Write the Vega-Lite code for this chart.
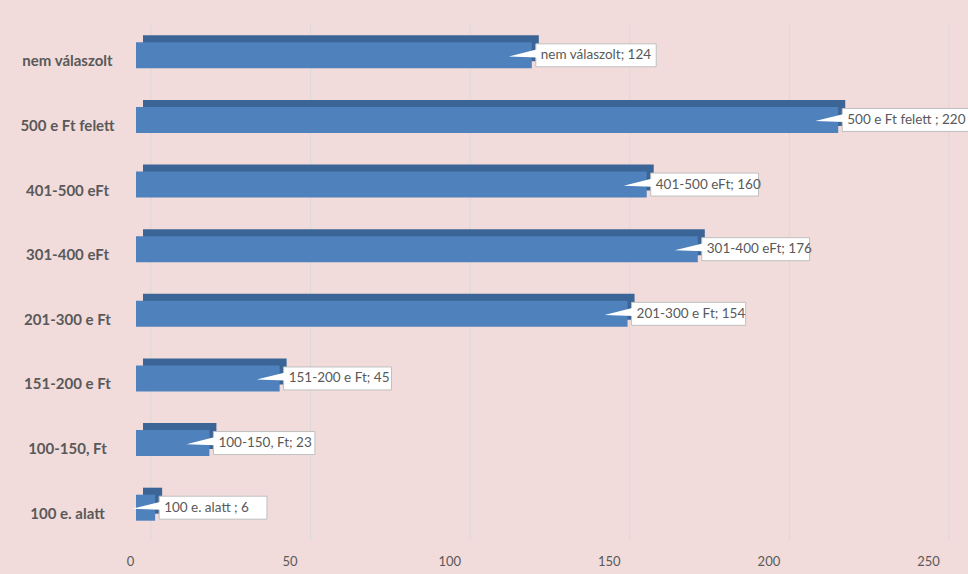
{
  "$schema": "https://vega.github.io/schema/vega-lite/v6.json",
  "width": 798,
  "height": 517,
  "autosize": {"type": "none"},
  "padding": {"left": 136, "top": 23, "right": 34, "bottom": 34},
  "background": "#f2dcdb",
  "config": {"view": {"stroke": null}, "font": "Lato"},
  "datasets": {
    "bars": [
      {"cat": "nem válaszolt", "value": 124, "label": "nem válaszolt; 124"},
      {"cat": "500 e Ft felett", "value": 220, "label": "500 e Ft felett ; 220"},
      {"cat": "401-500 eFt", "value": 160, "label": "401-500 eFt; 160"},
      {"cat": "301-400 eFt", "value": 176, "label": "301-400 eFt; 176"},
      {"cat": "201-300 e Ft", "value": 154, "label": "201-300 e Ft; 154"},
      {"cat": "151-200 e Ft", "value": 45, "label": "151-200 e Ft; 45"},
      {"cat": "100-150, Ft", "value": 23, "label": "100-150, Ft; 23"},
      {"cat": "100 e. alatt", "value": 6, "label": "100 e. alatt ; 6"}
    ],
    "grid": [{"v": 0}, {"v": 50}, {"v": 100}, {"v": 150}, {"v": 200}, {"v": 250}]
  },
  "layer": [
    {
      "data": {"name": "grid"},
      "mark": {"type": "rule", "color": "#d9d9d9", "strokeWidth": 1, "xOffset": 15},
      "encoding": {
        "x": {"field": "v", "type": "quantitative", "scale": {"domain": [0, 250], "nice": false}, "axis": {
          "title": null, "domain": false, "ticks": false, "grid": false, "values": [0, 50, 100, 150, 200, 250],
          "labelFont": "Lato", "labelFontSize": 13, "labelColor": "#595959", "labelPadding": 15, "labelOffset": -6,
          "labelFlush": false
        }}
      }
    },
    {
      "data": {"name": "bars"},
      "mark": {"type": "bar", "color": "#3b6596", "size": 26, "xOffset": 7, "yOffset": -7, "cornerRadius": 0},
      "encoding": {
        "y": {"field": "cat", "type": "nominal", "sort": null, "scale": {"paddingInner": 0, "paddingOuter": 0}, "axis": {
          "title": null, "domain": false, "ticks": false, "labelAlign": "center", "labelPadding": 69, "labelOffset": 6,
          "labelFont": "Lato", "labelFontWeight": "bold", "labelFontSize": 15, "labelColor": "#595959"
        }},
        "x": {"field": "value", "type": "quantitative"}
      }
    },
    {
      "data": {"name": "bars"},
      "mark": {"type": "bar", "color": "#4f81bd", "size": 26},
      "encoding": {
        "y": {"field": "cat", "type": "nominal", "sort": null},
        "x": {"field": "value", "type": "quantitative"}
      }
    },
    {
      "data": {"name": "bars"},
      "transform": [{"calculate": "datum.value + (length(datum.label) * 6.3 + 11) / 3.192", "as": "boxEnd"}],
      "mark": {"type": "bar", "color": "white", "stroke": "#bfbfbf", "strokeWidth": 1, "size": 23, "xOffset": 4},
      "encoding": {
        "y": {"field": "cat", "type": "nominal", "sort": null},
        "x": {"field": "value", "type": "quantitative"},
        "x2": {"field": "boxEnd"}
      }
    },
    {
      "data": {"name": "bars"},
      "mark": {"type": "point", "shape": "M 0.06 -0.22 L -1 0.04 L 0.06 0.08 Z", "size": 2916, "filled": true, "color": "white", "opacity": 1, "strokeWidth": 0, "xOffset": 4},
      "encoding": {
        "y": {"field": "cat", "type": "nominal", "sort": null},
        "x": {"field": "value", "type": "quantitative"}
      }
    },
    {
      "data": {"name": "bars"},
      "mark": {"type": "text", "align": "left", "baseline": "middle", "xOffset": 9, "fontSize": 13.5, "color": "#595959", "font": "Lato"},
      "encoding": {
        "y": {"field": "cat", "type": "nominal", "sort": null},
        "x": {"field": "value", "type": "quantitative"},
        "text": {"field": "label"}
      }
    }
  ]
}
